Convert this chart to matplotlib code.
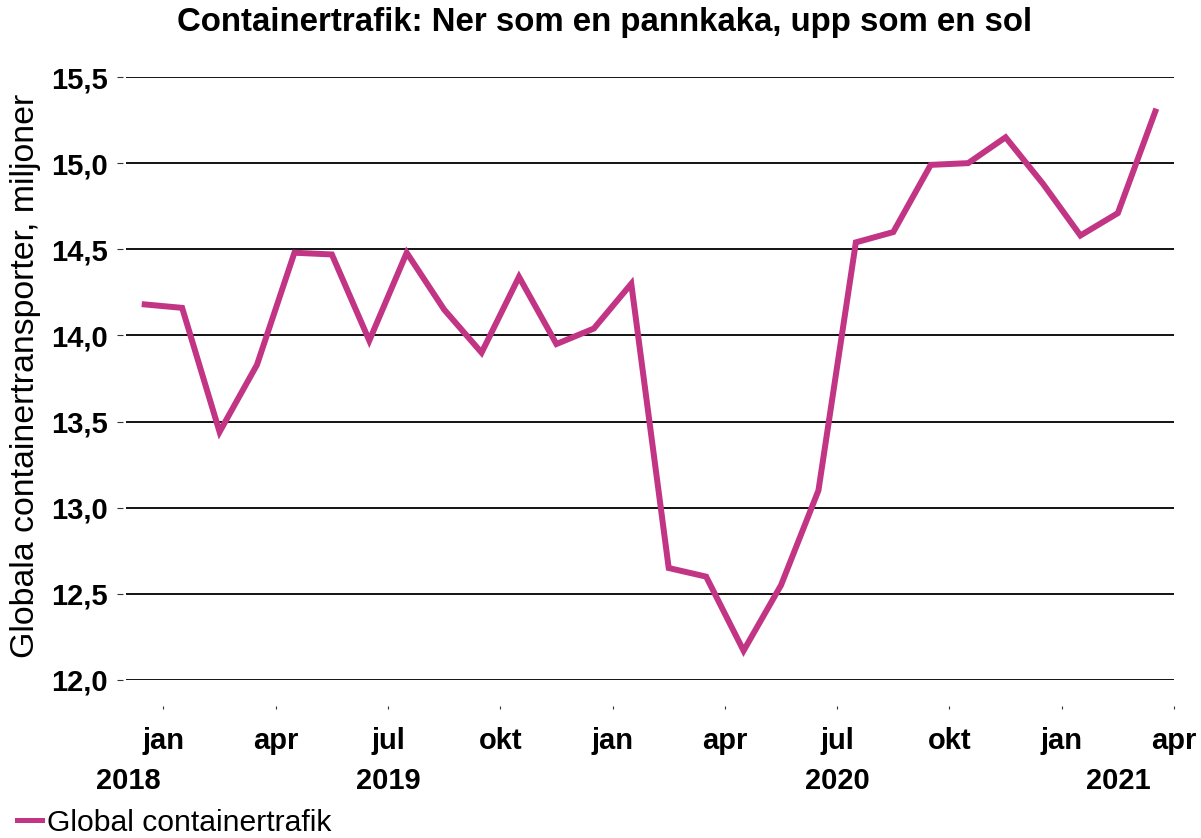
import matplotlib
matplotlib.use('Agg')
import matplotlib.pyplot as plt
import matplotlib.transforms as mtransforms
import numpy as np

plt.rcParams['font.family'] = ['Liberation Sans', 'DejaVu Sans']

# Global containertrafik, miljoner containrar per månad (dec 2017 - mar 2021)
trafik = [14.18, 14.16, 13.44, 13.83, 14.48, 14.47, 13.97, 14.48, 14.15, 13.90,
          14.34, 13.95, 14.04, 14.30, 12.65, 12.60, 12.17, 12.55, 13.10, 14.54,
          14.60, 14.99, 15.00, 15.15, 14.88, 14.58, 14.71, 15.30]

manad_etiketter = ['jan', 'apr', 'jul', 'okt', 'jan', 'apr', 'jul', 'okt', 'jan', 'apr']
ar_etiketter = ['2018', '2019', '2020', '2021']
ar_pos = [-0.94, 6.0, 18.0, 25.5]
y_ticks = [12.0, 12.5, 13.0, 13.5, 14.0, 14.5, 15.0, 15.5]

farg = '#C13584'

# månad 0 = jan 2018, punkterna ligger mitt i månaden, första är dec 2017
x = np.arange(len(trafik)) - 1 + 0.5

fig = plt.figure(figsize=(12.01, 8.38), dpi=100)
ax = fig.add_axes([126/1201, 1-680/838, (1174-126)/1201, (680-77)/838])

# spinepositioner först, de nollställer ticks
ax.spines['left'].set_position(('outward', 2.2))
ax.spines['bottom'].set_position(('outward', 18.7))

ax.plot(x, trafik, color=farg, lw=4.3, solid_joinstyle='miter', zorder=3)

ax.set_xlim(-1, 27)
ax.set_ylim(12.0, 15.5)

# y-axel
ax.set_yticks(y_ticks)
ax.set_yticklabels([f'{v:.1f}'.replace('.', ',') for v in y_ticks],
                   fontsize=21, fontweight='bold')
ax.yaxis.grid(True, color='#000000', lw=1.3)
ax.tick_params(axis='y', length=4.3, width=0.8, pad=6.5, color='#333333')

# x-axel, ticks under diagrammet
ax.set_xticks(np.arange(0, 28, 3))
ax.set_xticklabels(manad_etiketter, fontsize=21, fontweight='bold')
ax.set_xticks([0, 12, 24], minor=True)
ax.tick_params(axis='x', which='major', length=2.2, width=0.8, pad=13, color='#333333')
ax.tick_params(axis='x', which='minor', length=5.8, width=0.8, color='#333333')

for s in ['top', 'right', 'left', 'bottom']:
    ax.spines[s].set_visible(False)

trans = mtransforms.blended_transform_factory(ax.transData, fig.transFigure)
for pos, ar in zip(ar_pos, ar_etiketter):
    ax.text(pos, 1-781/838, ar, transform=trans, ha='center', va='center',
            fontsize=21, fontweight='bold', clip_on=False)

fig.text(0.503, 1-23/838, 'Containertrafik: Ner som en pannkaka, upp som en sol',
         ha='center', va='center', fontsize=23.8, fontweight='bold')
fig.text(26/1201, 1-376/838, 'Globala containertransporter, miljoner',
         rotation=90, ha='center', va='center', fontsize=24.4)

fig.legend([plt.Line2D([], [], color=farg, lw=3.6)], ['Global containertrafik'],
           loc='center left', bbox_to_anchor=(17/1201, 1-823/838), frameon=False,
           fontsize=21.7, handlelength=0.83, handletextpad=0.17, borderpad=0,
           borderaxespad=0)

fig.savefig('out.png', dpi=100)
